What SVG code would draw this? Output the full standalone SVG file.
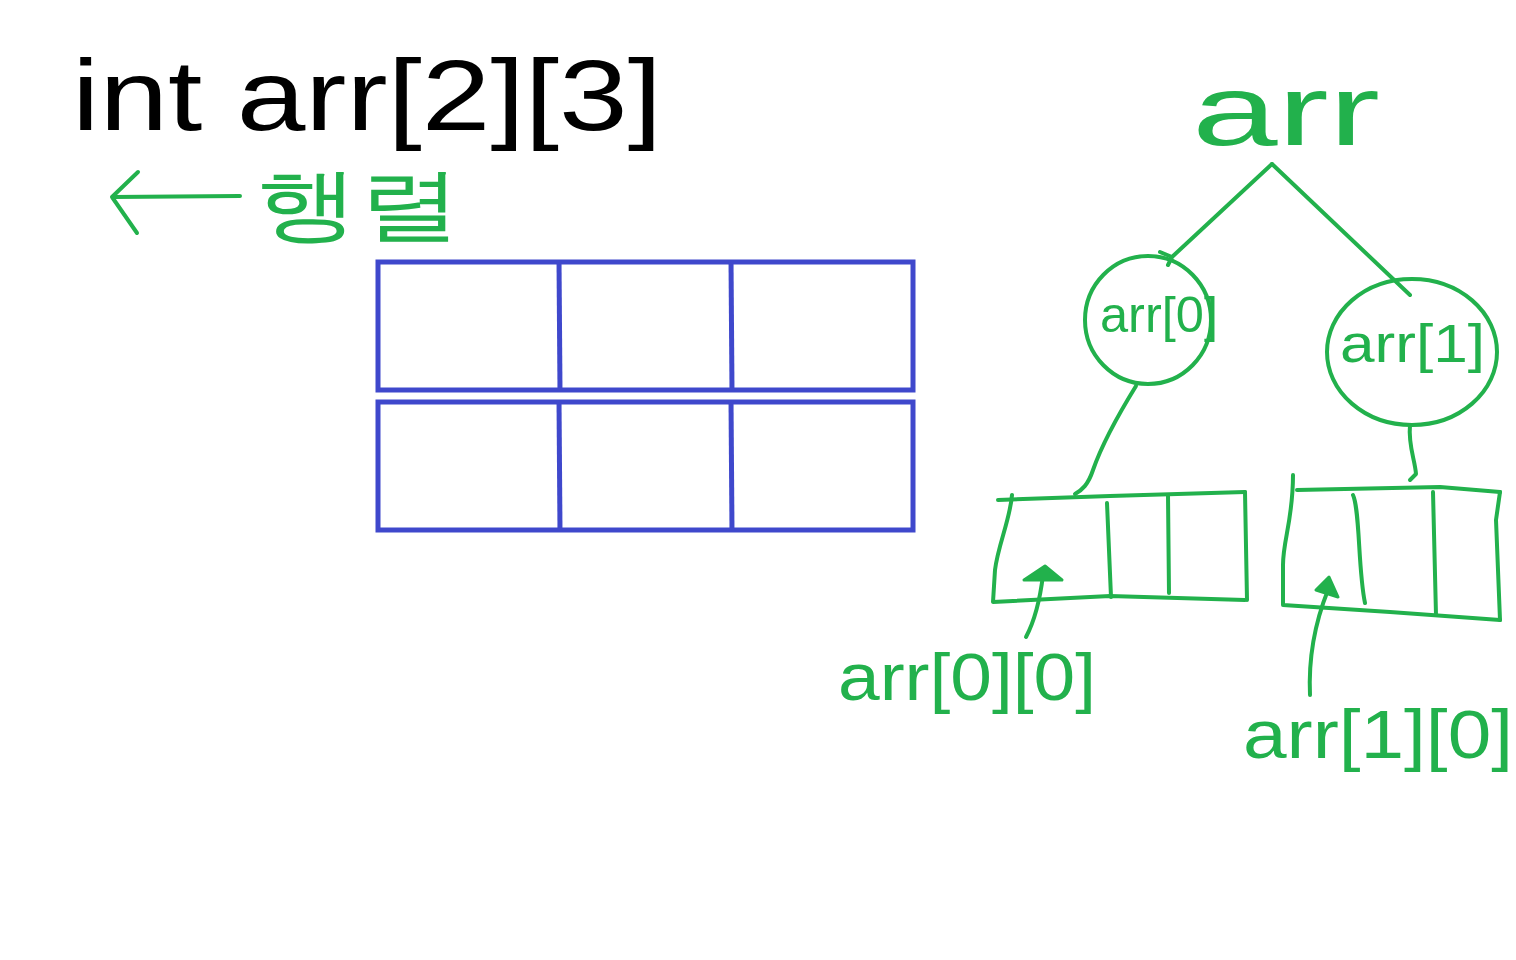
<svg xmlns="http://www.w3.org/2000/svg" width="1516" height="960" viewBox="0 0 1516 960">
<style>
.g{fill:none;stroke:#22b14c;stroke-width:4;stroke-linecap:round;stroke-linejoin:round}
.b{fill:none;stroke:#3f48cc;stroke-width:5}
.gt{fill:#22b14c;font-family:"Liberation Sans","DejaVu Sans",sans-serif}
.kt{fill:#000;font-family:"Liberation Sans","DejaVu Sans",sans-serif}
.ft{fill:#22b14c;stroke:#22b14c;stroke-width:3;stroke-linejoin:round}
</style>
<rect width="1516" height="960" fill="#fff"/>
<g id="decl">
<text class="kt" x="72" y="130" font-size="100" textLength="590" lengthAdjust="spacingAndGlyphs">int arr[2][3]</text>
</g>
<g id="matrix-label">
<text class="gt" x="256" y="232" font-size="80" textLength="205" lengthAdjust="spacingAndGlyphs" font-family="'Noto Sans CJK KR',sans-serif">행렬</text>
</g>
<g id="grid">
<rect class="b" x="378" y="262" width="535" height="128"/>
<rect class="b" x="378" y="402" width="535" height="128"/>
<line class="b" x1="559" y1="260" x2="560" y2="392"/>
<line class="b" x1="731" y1="260" x2="732" y2="392"/>
<line class="b" x1="559" y1="400" x2="560" y2="532"/>
<line class="b" x1="731" y1="400" x2="732" y2="532"/>
</g>
<g id="root">
<text class="gt" x="1192" y="145" font-size="100" textLength="188" lengthAdjust="spacingAndGlyphs">arr</text>
</g>
<g id="arr0">
<ellipse class="g" cx="1148" cy="320" rx="63" ry="64"/>
<text class="gt" x="1100" y="332" font-size="50" textLength="118" lengthAdjust="spacingAndGlyphs">arr[0]</text>
</g>
<g id="arr1">
<ellipse class="g" cx="1412" cy="352" rx="85" ry="73"/>
<text class="gt" x="1340" y="362" font-size="54" textLength="145" lengthAdjust="spacingAndGlyphs">arr[1]</text>
</g>
<g id="row0">
<path class="g" d="M998,500 L1110,496 L1245,492"/>
<path class="g" d="M1012,495 C1010,520 998,545 995,570 L993,602 L1110,596 L1245,600"/>
<path class="g" d="M1245,492 L1247,600"/>
<path class="g" d="M1107,503 L1111,597"/>
<path class="g" d="M1168,495 L1169,593"/>
</g>
<g id="row1">
<path class="g" d="M1297,490 L1440,487 L1500,492"/>
<path class="g" d="M1293,475 C1293,520 1283,540 1283,565 L1283,605 L1390,612 L1500,620"/>
<path class="g" d="M1500,492 L1496,520 L1500,620"/>
<path class="g" d="M1353,495 C1360,510 1358,570 1365,603"/>
<path class="g" d="M1433,492 L1436,615"/>
</g>
<g id="labels">
<text class="gt" x="838" y="700" font-size="66" textLength="258" lengthAdjust="spacingAndGlyphs">arr[0][0]</text>
<text class="gt" x="1243" y="758" font-size="68" textLength="270" lengthAdjust="spacingAndGlyphs">arr[1][0]</text>
</g>
<g id="connectors">
<path class="g" d="M240,196 L112,197 M138,172 L112,197 L137,233"/>
<path class="g" d="M1272,164 L1172,257 M1160,252 L1172,257 L1168,265"/>
<path class="g" d="M1272,164 L1410,295"/>
<path class="g" d="M1136,386 C1115,420 1100,450 1093,470 C1088,485 1082,490 1075,494"/>
<path class="g" d="M1410,425 C1408,445 1415,460 1416,474 L1410,480"/>
<path class="g" d="M1026,637 C1035,620 1040,600 1043,575"/>
<polygon class="ft" points="1024,580 1045,566 1062,580"/>
<path class="g" d="M1310,695 C1308,650 1318,615 1328,590"/>
<polygon class="ft" points="1316,590 1329,577 1338,597"/>
</g>
</svg>
